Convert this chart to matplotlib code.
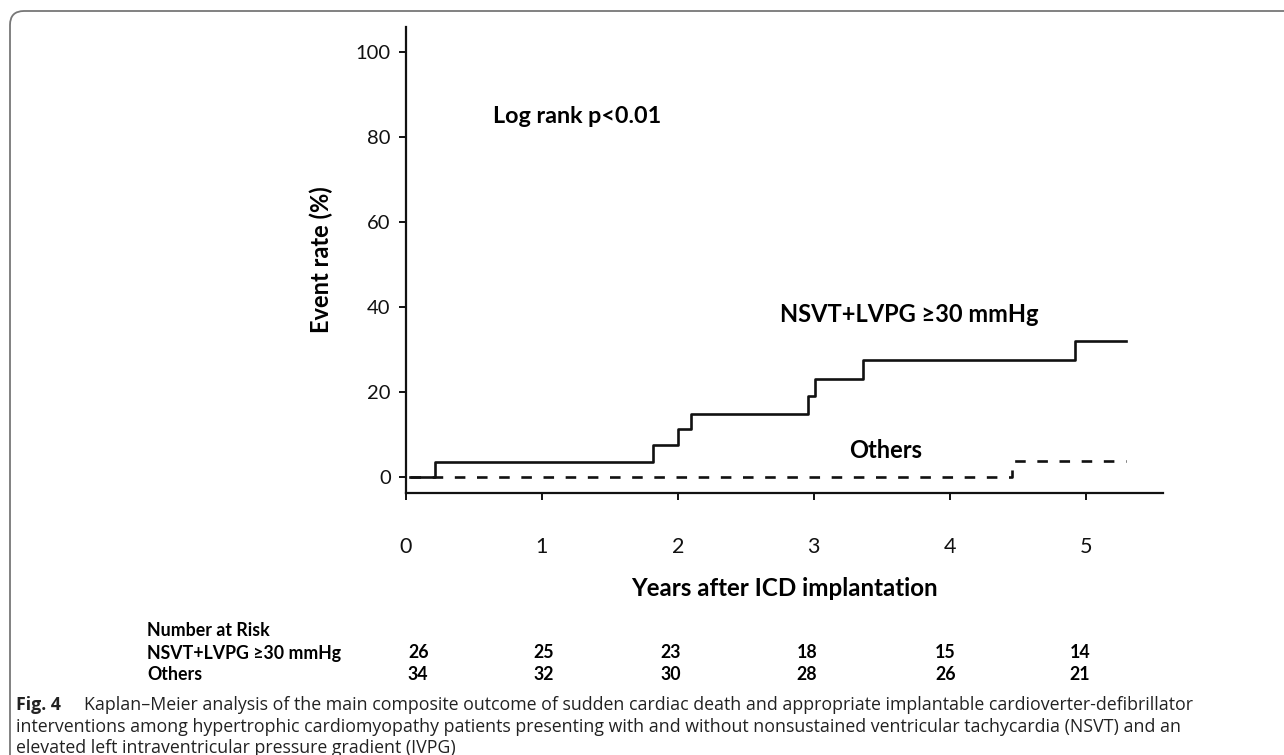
import numpy as np
import matplotlib
matplotlib.use("Agg")
import matplotlib.pyplot as plt
from matplotlib.patches import FancyBboxPatch
from matplotlib.transforms import IdentityTransform, blended_transform_factory

plt.rcParams['font.family'] = ['Lato', 'DejaVu Sans']

# Kaplan-Meier steps (years, event rate %)
nsvt_t = [0.03, 0.21, 1.82, 2.00, 2.10, 2.96, 3.01, 3.36, 4.92, 5.30]
nsvt_y = [0.0, 3.7, 7.6, 11.3, 14.8, 19.2, 23.2, 27.6, 32.0, 32.0]
others_t = [0.03, 4.46, 5.30]
others_y = [0.0, 3.9, 3.9]

years = [0, 1, 2, 3, 4, 5]
yticks = [0, 20, 40, 60, 80, 100]
risk_nsvt = [26, 25, 23, 18, 15, 14]
risk_others = [34, 32, 30, 28, 26, 21]
# column positions of the risk table (in years, as laid out in the figure)
risk_cols = [0.09, 1.01, 1.95, 2.95, 3.97, 4.96]

W, H = 1284, 755
fig = plt.figure(figsize=(W / 100, H / 100), dpi=100)
ax = fig.add_axes([406 / W, 1 - 493 / H, (1163 - 406) / W, (493 - 27) / H])

ax.plot(nsvt_t, nsvt_y, drawstyle='steps-post', color='#111111', lw=1.9)
ax.plot(others_t, others_y, drawstyle='steps-post', color='#111111', lw=1.9,
        dashes=(4, 4.4))

ax.set_xlim(0, 5.57)
ax.set_ylim(-3.7, 105.8)
ax.set_xticks(years)
ax.set_yticks(yticks)
for s in ['top', 'right']:
    ax.spines[s].set_visible(False)
for s in ['left', 'bottom']:
    ax.spines[s].set_linewidth(1.6)
    ax.spines[s].set_color('#111111')
ax.tick_params(width=1.4, length=5, labelsize=14.5, colors='#111111')
ax.tick_params(axis='x', pad=27, labelsize=15.5)
ax.tick_params(axis='y', pad=6)

ax.set_ylabel('Event rate (%)', fontsize=17, fontweight='bold', labelpad=16)
ax.set_xlabel('Years after ICD implantation', fontsize=17.4, fontweight='bold',
              labelpad=14)

ax.text(0.64, 84.7, 'Log rank p<0.01', fontsize=16.8, fontweight='bold', va='center')
ax.text(2.75, 38.2, 'NSVT+LVPG \u226530 mmHg', fontsize=17, fontweight='bold',
        va='center')
ax.text(3.26, 6.3, 'Others', fontsize=17, fontweight='bold', va='center')

# number at risk table
tr = blended_transform_factory(ax.transData, fig.transFigure)
tab = dict(fontsize=12.8, fontweight='bold', va='center')
fig.text(147 / W, 1 - 631 / H, 'Number at Risk', **tab)
fig.text(147 / W, 1 - 653 / H, 'NSVT+LVPG \u226530 mmHg', **tab)
fig.text(147 / W, 1 - 675 / H, 'Others', **tab)
for x, a, b in zip(risk_cols, risk_nsvt, risk_others):
    fig.text(x, 1 - 653 / H, str(a), transform=tr, ha='center', **tab)
    fig.text(x, 1 - 675 / H, str(b), transform=tr, ha='center', **tab)

# caption
cap = dict(family=['Open Sans', 'DejaVu Sans'], fontsize=12.8, color='#222222',
           va='center')
fig.text(16 / W, 1 - 705 / H, 'Fig. 4', fontweight='bold', **cap)
fig.text(84 / W, 1 - 705 / H,
         'Kaplan\u2013Meier analysis of the main composite outcome of sudden cardiac '
         'death and appropriate implantable cardioverter-defibrillator', **cap)
fig.text(16 / W, 1 - 727 / H,
         'interventions among hypertrophic cardiomyopathy patients presenting with '
         'and without nonsustained ventricular tachycardia (NSVT) and an', **cap)
fig.text(16 / W, 1 - 748 / H,
         'elevated left intraventricular pressure gradient (IVPG)', **cap)

# rounded frame, open to the right and bottom
frame = FancyBboxPatch((10, -30), 1400, H - 11 + 30,
                       boxstyle='round,pad=0,rounding_size=14',
                       transform=IdentityTransform(), fill=False,
                       edgecolor='#777777', lw=1.3)
fig.add_artist(frame)

fig.savefig('out.png', dpi=100)
